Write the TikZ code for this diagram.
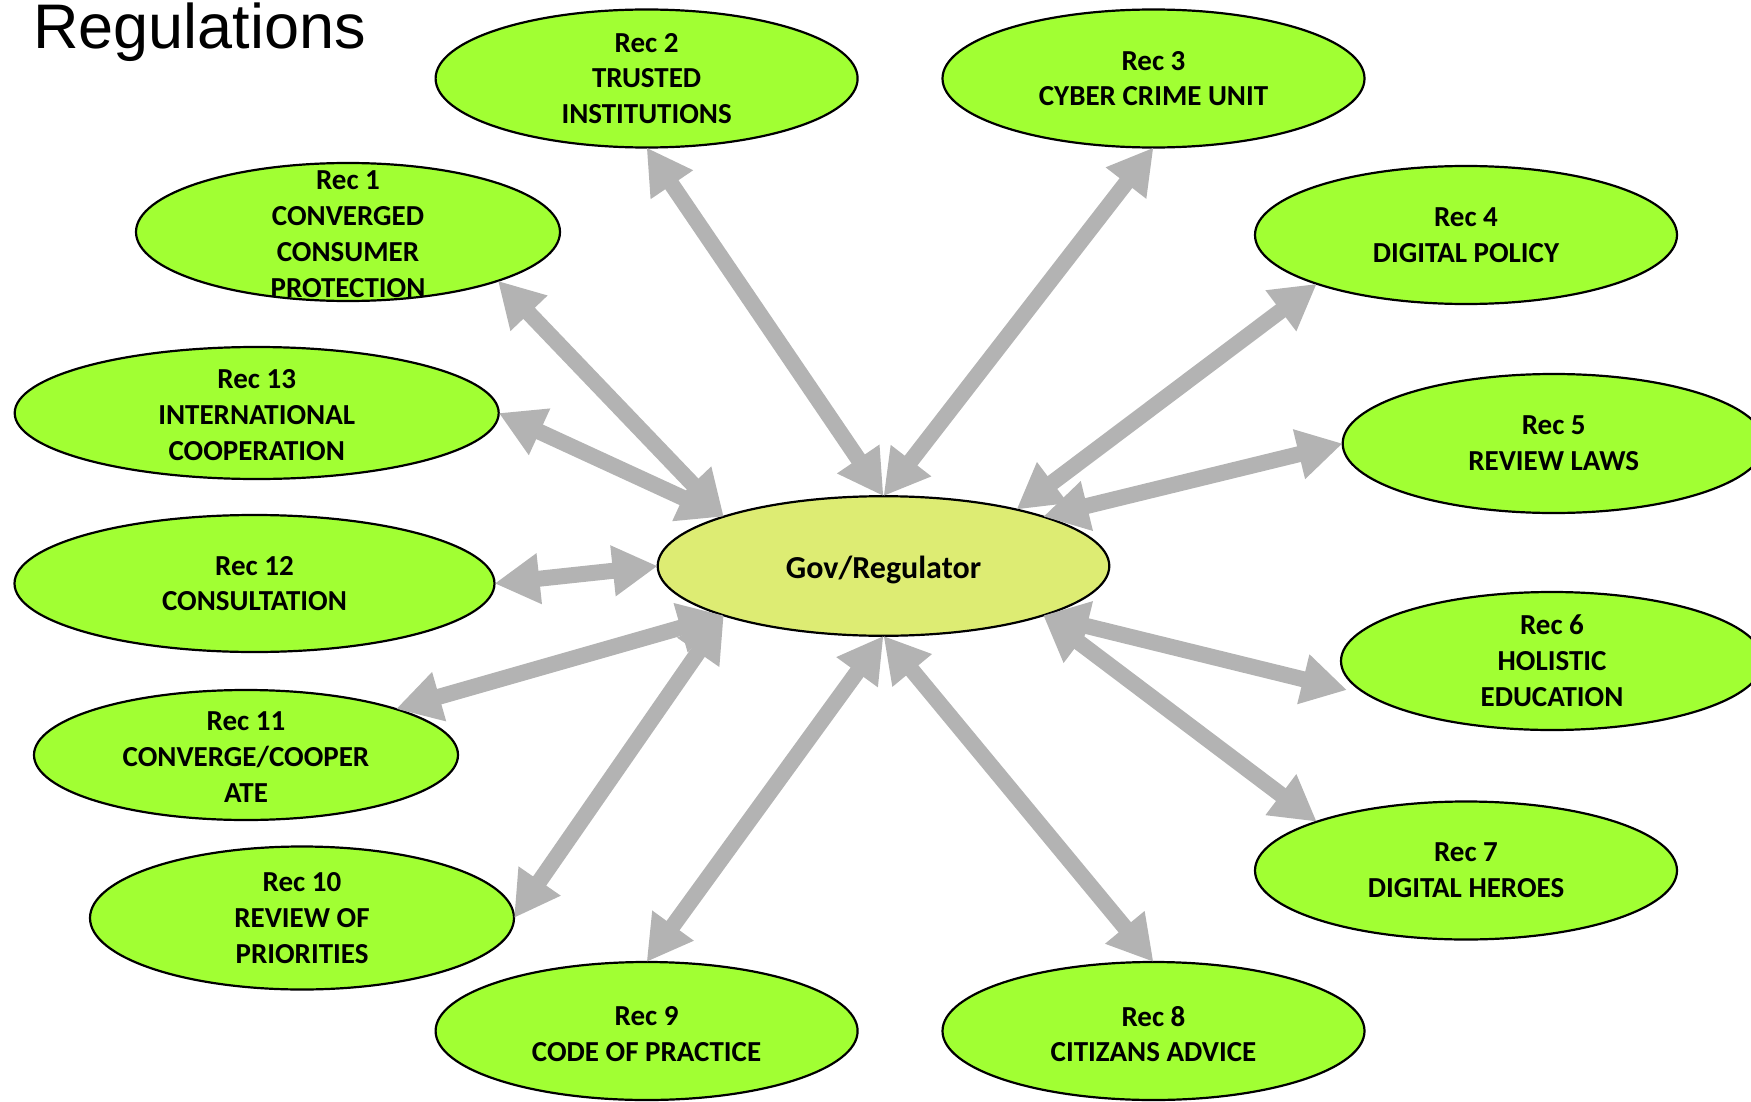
\documentclass[tikz,border=0pt]{standalone}
\usepackage{fontspec}
\setmainfont{Carlito}
\newfontfamily\titlefont{Liberation Sans}
\usetikzlibrary{shapes.geometric,arrows.meta,calc}
\definecolor{recgreen}{RGB}{161,255,51}
\definecolor{govyellow}{RGB}{221,236,115}
\definecolor{linkgray}{RGB}{179,179,179}
\begin{document}
\begin{tikzpicture}[x=0.5pt,y=-0.5pt,
  bubble/.style={ellipse, draw=black, line width=1.1pt, fill=recgreen,
    inner sep=0pt, outer sep=0pt, minimum width=211pt, minimum height=69pt},
  bubbletext/.style={align=center, inner sep=0pt,
    font=\fontsize{14.5pt}{17.9pt}\selectfont\bfseries},
  link/.style={draw=linkgray, line width=8pt,
    {Triangle[length=22.5pt,width=24pt]}-{Triangle[length=22.5pt,width=24pt]}}]
\useasboundingbox (0,0) rectangle (1751,1102);
\clip (0,0) rectangle (1751,1102);

% title
\node[anchor=base west, inner sep=0pt, font=\titlefont\fontsize{31.5pt}{31.5pt}\selectfont]
  (title) at (33,49) {Regulations};

% central hub
\node[bubble, fill=govyellow, minimum width=225.8pt, minimum height=69.8pt,
  label={[bubbletext, yshift=-2.2pt, font=\fontsize{16pt}{19pt}\selectfont\bfseries]center:Gov/Regulator}]
  (gov) at (883.5,566) {};

% recommendations
\node[bubble, label={[bubbletext]center:{Rec 2\\TRUSTED\\INSTITUTIONS}}]
  (rec2) at (646.6,78.5) {};
\node[bubble, label={[bubbletext]center:{Rec 3\\CYBER CRIME UNIT}}]
  (rec3) at (1153.5,78.5) {};
\node[bubble, minimum width=212pt, label={[bubbletext, yshift=-1pt]center:{Rec 1\\CONVERGED\\CONSUMER\\PROTECTION}}]
  (rec1) at (348,232) {};
\node[bubble, label={[bubbletext]center:{Rec 4\\DIGITAL POLICY}}]
  (rec4) at (1466,235) {};
\node[bubble, minimum width=242pt, minimum height=66pt,
  label={[bubbletext, yshift=-1pt]center:{Rec 13\\INTERNATIONAL\\COOPERATION}}]
  (rec13) at (256.7,413) {};
\node[bubble, minimum height=69.5pt, label={[bubbletext]center:{Rec 5\\REVIEW LAWS}}]
  (rec5) at (1553.7,443.5) {};
\node[bubble, minimum width=240pt, minimum height=68.5pt,
  label={[bubbletext]center:{Rec 12\\CONSULTATION}}]
  (rec12) at (254.5,583.5) {};
\node[bubble, label={[bubbletext]center:{Rec 6\\HOLISTIC\\EDUCATION}}]
  (rec6) at (1552,661) {};
\node[bubble, minimum width=212pt, minimum height=65pt,
  label={[bubbletext, yshift=-1pt]center:{Rec 11\\CONVERGE/COOPER\\ATE}}]
  (rec11) at (246,755) {};
\node[bubble, label={[bubbletext]center:{Rec 7\\DIGITAL HEROES}}]
  (rec7) at (1466,870.5) {};
\node[bubble, minimum width=212pt, minimum height=71.5pt,
  label={[bubbletext]center:{Rec 10\\REVIEW OF\\PRIORITIES}}]
  (rec10) at (302,918) {};
\node[bubble, label={[bubbletext, yshift=-1.5pt]center:{Rec 9\\CODE OF PRACTICE}}]
  (rec9) at (646.6,1031) {};
\node[bubble, label={[bubbletext, yshift=-1.5pt]center:{Rec 8\\CITIZANS ADVICE}}]
  (rec8) at (1153.5,1031) {};

% two-way links to the hub
\draw[link] (rec2.south) -- (gov.north);
\draw[link] (rec3.south) -- (gov.north);
\draw[link] (rec1.south east) -- (gov.north west);
\draw[link] (rec13.east) -- (gov.north west);
\draw[link] (rec4.south west) -- (gov.23.5);
\draw[link] (rec5.west) -- (gov.north east);
\draw[link] (rec12.east) -- (gov.west);
\draw[link] (rec11.north east) -- (gov.south west);
\draw[link] (rec10.east) -- (gov.south west);
\draw[link] (rec9.north) -- (gov.south);
\draw[link] (rec8.north) -- (gov.south);
\draw[link] ($(rec6.west)+(6,29)$) -- (gov.south east);
\draw[link] (rec7.north west) -- (gov.south east);
\end{tikzpicture}
\end{document}
